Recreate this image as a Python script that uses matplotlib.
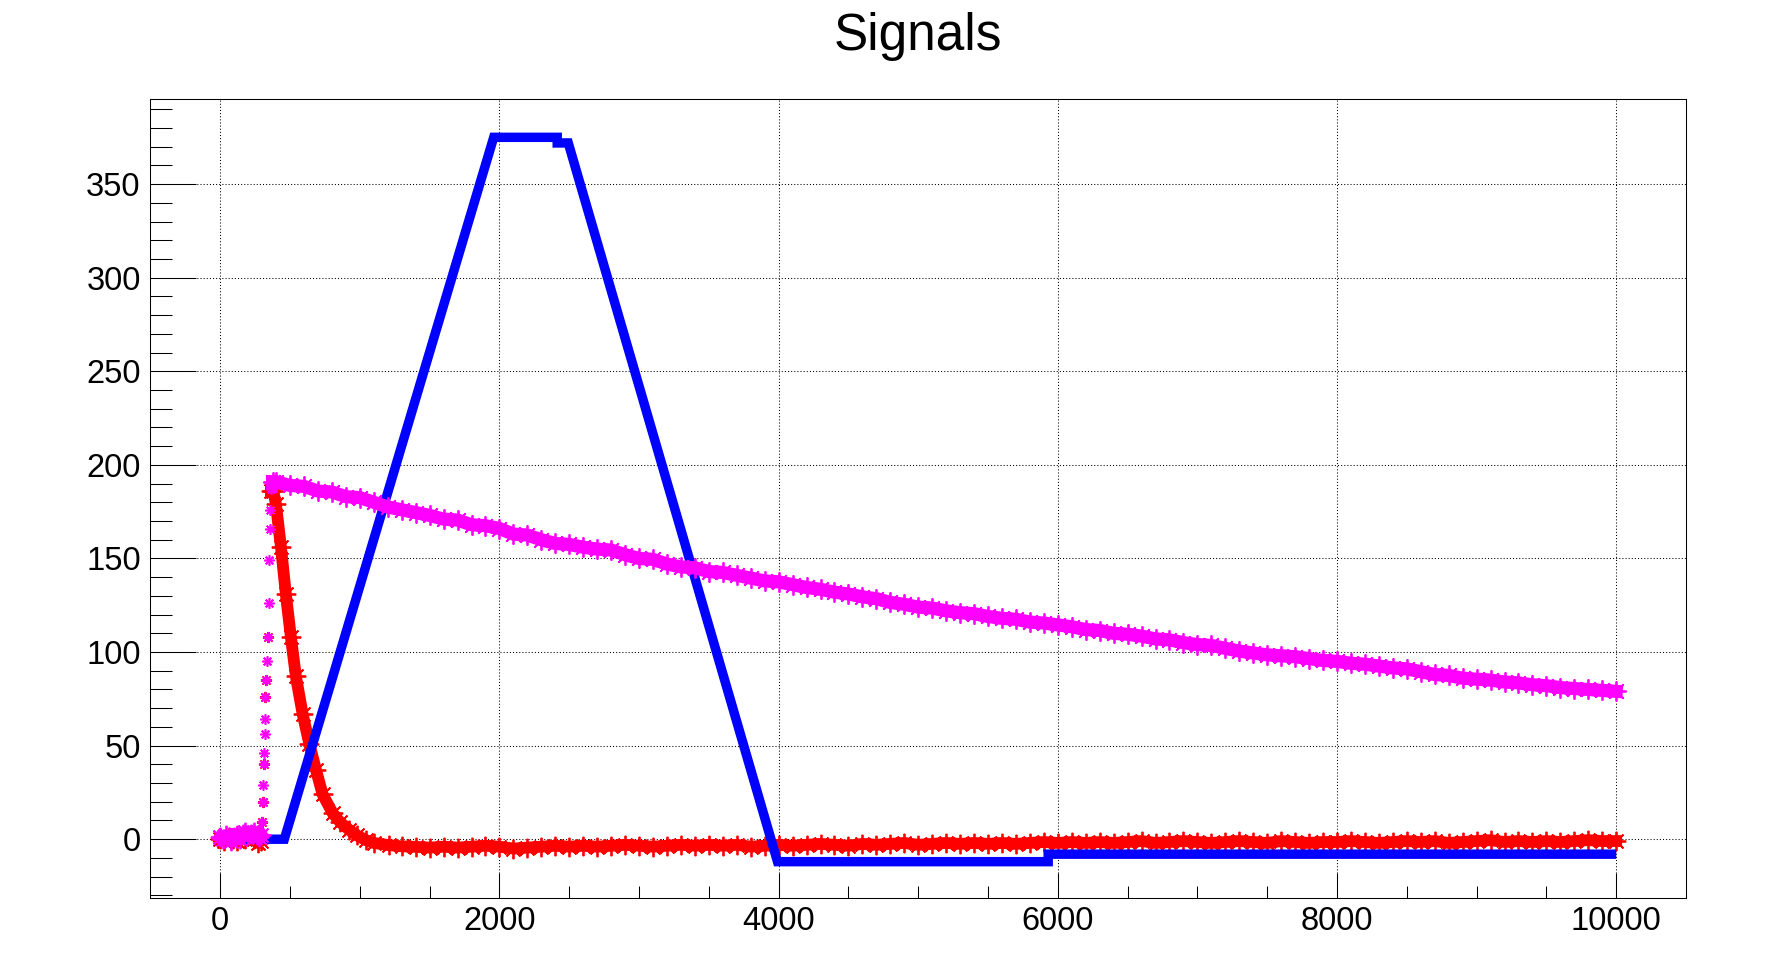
import numpy as np
import matplotlib.pyplot as plt

plt.rcParams['font.family'] = ['Liberation Sans', 'DejaVu Sans']

# ---- data ----
# magenta: preamp-like signal
mag_base_x = [0, 20, 40, 60, 80, 100, 120, 140, 160, 180, 200, 220, 240, 260, 280, 295]
mag_base_y = [1, 0, 2, 1, -1, 1, 2, 0, 3, 4, 2, 3, 4, 2, 1, 2]
mag_rise_x = [299, 303, 308, 313, 315, 318, 320, 322, 327, 334, 339, 346, 351, 356, 358, 363]
mag_rise_y = [9, 20, 29, 40, 46, 56, 64, 76, 85, 95, 108, 126, 149, 166, 176, 187]
mag_tail_x = [375] + list(range(400, 10001, 100))
mag_tail_y = [191,
              191, 189, 188.5, 186, 185.5, 183, 182.5, 180, 177.5, 176,
              174.5, 173, 171, 170.5, 168, 167.5, 166, 163, 162.5, 160,
              158, 157.5, 156, 155, 154.5, 152, 150, 149.5, 147, 145.5,
              145, 143, 142.5, 141, 139.5, 138, 137.5, 136, 134.5, 133.5,
              132, 131, 129.5, 128.5, 126.5, 125.5, 124, 123.5, 122, 121,
              120.5, 119, 118, 117.5, 116, 115.5, 114.5, 113.5, 112, 111.5,
              110, 109.5, 108.5, 107, 106.5, 105, 104, 103.5, 102, 100.5,
              99.5, 98.5, 98, 97.5, 96.5, 95.5, 95, 94, 93.5, 92.5,
              91.5, 91, 89.5, 88, 87.5, 86, 85.5, 85, 84, 83.5,
              82.5, 82, 81, 80.5, 80, 79.5, 79]

# red: shaped signal
red_base_x = [0, 30, 60, 90, 120, 150, 180, 210, 240, 270, 290]
red_base_y = [0, -1, 1, 0, -1, 1, 0, 2, 0, -2, -1]
red_rise_x = [299, 303, 313, 322, 327, 339]
red_rise_y = [9, 20, 40, 76, 85, 108]
red_fall_x = [363, 380, 399, 435, 470, 506, 542, 590, 638, 686, 733, 805,
              860, 924, 980, 1044, 1100, 1211, 1300, 1402]
red_fall_y = [186, 186, 179, 156, 131, 108, 87, 67, 51, 37, 24, 14,
              9, 5, 2, -0.5, -2, -3.2, -3.8, -4.1]
red_tail_x = list(range(1500, 10001, 100))
red_tail_y = [-4.5, -4, -4.5, -4, -3.5, -4, -5, -4.5, -4, -3.5,
              -4, -3.5, -4, -3.5, -3, -3.5, -4, -3.5, -3, -3.5,
              -3, -3.5, -3, -4, -3.5, -3, -3.5, -3, -2.5, -3,
              -3.5, -2.5, -3, -2.5, -2, -3, -2.5, -2, -2.5, -2,
              -2.5, -2, -2.5, -2, -1.5, -2, -1.5, -2, -1.5, -2,
              -1.5, -1, -2, -1.5, -1, -1.5, -2, -1.5, -1, -1.5,
              -2, -1, -1.5, -2, -1.5, -1.5, -1, -1.5, -2, -1.5,
              -1, -1.5, -1, -2, -1.5, -1, -0.5, -1.5, -1, -1.5,
              -1, -1.5, -1, -0.5, -1, -1]

# blue: trapezoidal filter output
blue_x = [0, 300, 459, 1959, 2414, 2414, 2493, 3992, 5931, 5931, 10000]
blue_y = [0, 0, 0, 375, 375, 372, 372, -12, -12, -8, -8]

star = (8, 2, 0)

fig = plt.figure(figsize=(17.74, 9.75), dpi=100)
ax = fig.add_axes([0.0848, 0.079, 0.8656, 0.8195])

# red
ax.plot(red_base_x, red_base_y, color='#ff0000', lw=8.5, marker=star, ms=14, mew=1.3, zorder=3)
ax.plot(red_rise_x, red_rise_y, ls='none', color='#ff0000', marker=star, ms=8, mew=1.5, zorder=3)
ax.plot(red_fall_x + red_tail_x, red_fall_y + red_tail_y, color='#ff0000', lw=8.5,
        marker=star, ms=14, mew=1.3, solid_joinstyle='round', zorder=3)

# blue
ax.plot(blue_x, blue_y, color='#0000ff', lw=6.8, solid_joinstyle='miter',
        solid_capstyle='butt', zorder=4)

# magenta
ax.plot(mag_base_x, mag_base_y, color='#ff00ff', lw=9, marker=star, ms=14, mew=1.3, zorder=5)
ax.plot(mag_rise_x, mag_rise_y, ls='none', color='#ff00ff', marker=star, ms=7.5, mew=1.2, zorder=5)
ax.plot(mag_tail_x, mag_tail_y, color='#ff00ff', lw=9.5, marker=star, ms=14.5, mew=1.3,
        solid_joinstyle='round', zorder=5)

ax.set_xlim(-500, 10500)
ax.set_ylim(-31.4, 395.5)
ax.set_xticks(range(0, 10001, 2000))
ax.set_xticks(range(0, 10001, 500), minor=True)
ax.set_yticks(range(0, 351, 50))
ax.set_yticks(range(-30, 391, 10), minor=True)

ax.grid(True, which='major', color='black', lw=0.75, ls=(0, (1, 2)), zorder=1)
ax.tick_params(axis='both', which='both', direction='in', top=False, right=False,
               width=0.75, labelsize=23.5, colors='black')
ax.tick_params(axis='y', which='major', length=33, pad=7)
ax.tick_params(axis='y', which='minor', length=16)
ax.tick_params(axis='x', which='major', length=18, pad=6)
ax.tick_params(axis='x', which='minor', length=9)
for s in ax.spines.values():
    s.set_linewidth(0.75)

fig.text(918 / 1774, 1 - 50 / 975, 'Signals', ha='center', va='baseline', fontsize=37)

fig.savefig('out.png', dpi=100)
